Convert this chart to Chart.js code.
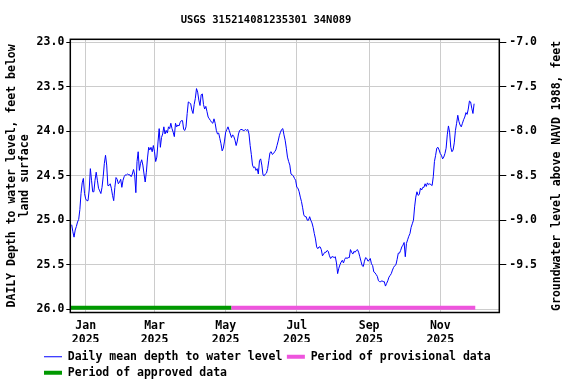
<!DOCTYPE html>
<html>
<head>
<meta charset="utf-8">
<script src="https://cdn.jsdelivr.net/npm/chart.js@4/dist/chart.umd.min.js"></script>
<style>
  html, body { margin: 0; padding: 0; background: #fff; }
</style>
</head>
<body>
<canvas id="chart" width="576" height="384"></canvas>
<script>
// daily mean depth to water level, feet below land surface, one value per day from startDate
var startDate = '2024-12-20';
var depth = [
  25.05, 25.13, 25.19, 25.11, 25.07, 25.02, 24.99, 24.88, 24.70, 24.58,
  24.53, 24.70, 24.76, 24.78, 24.78, 24.66, 24.42, 24.55, 24.68, 24.68,
  24.55, 24.46, 24.55, 24.64, 24.67, 24.70, 24.63, 24.51, 24.36, 24.27,
  24.38, 24.61, 24.61, 24.59, 24.64, 24.72, 24.78, 24.63, 24.52, 24.54,
  24.59, 24.57, 24.54, 24.63, 24.55, 24.51, 24.49, 24.49, 24.48, 24.49,
  24.49, 24.51, 24.48, 24.43, 24.49, 24.69, 24.34, 24.23, 24.44, 24.36,
  24.32, 24.38, 24.48, 24.57, 24.46, 24.30, 24.18, 24.21, 24.18, 24.23,
  24.16, 24.23, 24.34, 24.29, 24.12, 23.97, 24.18, 24.07, 24.03, 23.95,
  24.03, 23.99, 24.02, 23.95, 23.97, 23.91, 23.97, 24.01, 24.06, 23.91,
  23.95, 23.93, 23.94, 23.90, 23.88, 23.88, 23.98, 23.99, 23.95, 23.80,
  23.67, 23.68, 23.69, 23.76, 23.80, 23.70, 23.63, 23.52, 23.56, 23.65,
  23.71, 23.59, 23.58, 23.70, 23.75, 23.72, 23.78, 23.84, 23.86, 23.88,
  23.90, 23.91, 23.86, 23.91, 23.99, 24.03, 24.02, 24.08, 24.14, 24.22,
  24.19, 24.11, 24.01, 23.98, 23.95, 23.99, 24.03, 24.07, 24.04, 24.06,
  24.10, 24.16, 24.11, 24.03, 23.99, 23.98, 23.98, 23.99, 23.99, 23.98,
  23.99, 23.98, 24.03, 24.16, 24.26, 24.38, 24.41, 24.40, 24.44, 24.42,
  24.48, 24.33, 24.31, 24.38, 24.49, 24.50, 24.48, 24.47, 24.42, 24.33,
  24.24, 24.23, 24.26, 24.25, 24.23, 24.21, 24.16, 24.11, 24.05, 24.01,
  23.98, 23.97, 24.04, 24.10, 24.19, 24.29, 24.34, 24.38, 24.48, 24.49,
  24.50, 24.53, 24.55, 24.63, 24.64, 24.68, 24.74, 24.79, 24.86, 24.94,
  24.96, 24.96, 25.00, 25.00, 24.96, 25.00, 25.03, 25.08, 25.15, 25.21,
  25.30, 25.32, 25.30, 25.30, 25.33, 25.40, 25.38, 25.36, 25.36, 25.34,
  25.35, 25.40, 25.43, 25.41, 25.41, 25.42, 25.41, 25.48, 25.60, 25.54,
  25.50, 25.47, 25.45, 25.48, 25.44, 25.42, 25.43, 25.42, 25.42, 25.33,
  25.36, 25.38, 25.35, 25.36, 25.34, 25.33, 25.36, 25.41, 25.46, 25.51,
  25.52, 25.46, 25.42, 25.43, 25.46, 25.45, 25.43, 25.49, 25.51, 25.58,
  25.59, 25.61, 25.63, 25.68, 25.69, 25.69, 25.68, 25.69, 25.69, 25.74,
  25.71, 25.68, 25.64, 25.62, 25.60, 25.56, 25.53, 25.51, 25.50, 25.44,
  25.37, 25.37, 25.34, 25.30, 25.28, 25.25, 25.41, 25.26, 25.22, 25.18,
  25.15, 25.08, 25.04, 25.00, 24.85, 24.74, 24.68, 24.72, 24.71, 24.64,
  24.66, 24.63, 24.63, 24.59, 24.62, 24.58, 24.60, 24.59, 24.60, 24.61,
  24.51, 24.34, 24.27, 24.19, 24.18, 24.21, 24.25, 24.27, 24.31, 24.29,
  24.25, 24.19, 24.04, 23.94, 24.01, 24.18, 24.23, 24.21, 24.13, 23.99,
  23.91, 23.82, 23.89, 23.93, 23.95, 23.91, 23.87, 23.84, 23.79, 23.81,
  23.75, 23.66, 23.67, 23.74, 23.80, 23.69
];

var approvedPeriod = ['2024-12-19', '2025-05-06'];
var provisionalPeriod = ['2025-05-06', '2025-12-01'];

var tickDates = ['2025-01-01', '2025-03-01', '2025-05-01', '2025-07-01', '2025-09-01', '2025-11-01'];
var tickMonths = ['Jan', 'Mar', 'May', 'Jul', 'Sep', 'Nov'];
var tickYear = '2025';
var leftTicks = [23.0, 23.5, 24.0, 24.5, 25.0, 25.5, 26.0];
var rightTicks = [-7.0, -7.5, -8.0, -8.5, -9.0, -9.5];
var datumOffset = 16; // elevation above NAVD 1988 = datumOffset - depth

// axis ranges (days from 2025-01-01, feet below surface)
var xMin = -13.2, xMax = 354.6;
var depthTop = 22.966, depthBottom = 26.037;
var periodLevel = 25.985;

function dayNum(s) {
    return (Date.parse(s) - Date.parse('2025-01-01')) / 86400000;
}

var firstDay = dayNum(startDate);
var linePoints = depth.map(function (v, i) {
    return { x: firstDay + i, y: v };
});

function periodLine(p) {
    return [{ x: dayNum(p[0]), y: periodLevel }, { x: dayNum(p[1]), y: periodLevel }];
}

var FONT = 'DejaVu Sans Mono';
Chart.defaults.font.family = FONT;
Chart.defaults.font.size = 11.5;
Chart.defaults.font.weight = 'bold';
Chart.defaults.color = '#000';

// frame around the plot, chart title and right axis title (reads bottom to top)
var framePlugin = {
    id: 'frame',
    afterLayout: function (chart) {
        chart.legend.left = 39.5;
        chart.legend.top = 346.5;
    },
    afterDraw: function (chart) {
        var a = chart.chartArea, ctx = chart.ctx;
        ctx.save();
        ctx.strokeStyle = '#000';
        ctx.lineWidth = 1.5;
        ctx.strokeRect(a.left, a.top, a.right - a.left, a.bottom - a.top);
        ctx.fillStyle = '#000';
        ctx.textAlign = 'center';
        ctx.textBaseline = 'middle';
        ctx.font = 'bold 10.5px "' + FONT + '"';
        ctx.fillText('USGS 315214081235301 34N089', 266, 20.5);
        ctx.translate(557, (a.top + a.bottom) / 2);
        ctx.rotate(-Math.PI / 2);
        ctx.font = 'bold 11.5px "' + FONT + '"';
        ctx.fillText('Groundwater level above NAVD 1988, feet', 0, 0);
        ctx.restore();
    }
};

var ctx = document.getElementById('chart').getContext('2d');
var chart = new Chart(ctx, {
    type: 'line',
    data: {
        datasets: [{
            label: 'Daily mean depth to water level',
            data: linePoints,
            borderColor: '#0000ff',
            backgroundColor: '#0000ff',
            borderWidth: 1,
            pointRadius: 0,
            pointStyle: 'line',
            yAxisID: 'y'
        }, {
            label: 'Period of provisional data',
            data: periodLine(provisionalPeriod),
            borderColor: '#ee55dd',
            backgroundColor: '#ee55dd',
            borderWidth: 4,
            pointRadius: 0,
            pointStyle: 'line',
            yAxisID: 'y'
        }, {
            label: 'Period of approved data',
            data: periodLine(approvedPeriod),
            borderColor: '#009900',
            backgroundColor: '#009900',
            borderWidth: 4,
            pointRadius: 0,
            pointStyle: 'line',
            yAxisID: 'y'
        }]
    },
    options: {
        responsive: false,
        animation: false,
        devicePixelRatio: 1,
        layout: { padding: { top: 39.3 } },
        plugins: {
            title: { display: false },
            legend: {
                position: 'bottom',
                align: 'start',
                labels: {
                    usePointStyle: true,
                    pointStyleWidth: 18,
                    boxWidth: 18,
                    padding: 4.5,
                    color: '#000',
                    font: { size: 11.5, weight: 'bold' }
                }
            },
            tooltip: { enabled: false }
        },
        scales: {
            x: {
                type: 'linear',
                min: xMin,
                max: xMax,
                afterBuildTicks: function (scale) {
                    scale.ticks = tickDates.map(function (d) { return { value: dayNum(d) }; });
                },
                afterFit: function (scale) { scale.height = 29.5; },
                ticks: {
                    autoSkip: false,
                    maxRotation: 0,
                    padding: 7.4,
                    font: { size: 11.5, weight: 'bold', lineHeight: 1.15 },
                    callback: function (value, index) { return [tickMonths[index], tickYear]; }
                },
                grid: { color: '#cccccc', drawTicks: false },
                border: { display: false }
            },
            y: {
                position: 'left',
                reverse: true,
                min: depthTop,
                max: depthBottom,
                afterBuildTicks: function (scale) {
                    scale.ticks = leftTicks.map(function (v) { return { value: v }; });
                },
                afterFit: function (scale) { scale.width = 70.3; },
                ticks: {
                    padding: 2,
                    callback: function (value) { return Number(value).toFixed(1); }
                },
                grid: { color: '#cccccc', tickColor: '#000', tickLength: 4 },
                border: { display: false },
                title: {
                    display: true,
                    text: ['DAILY Depth to water level, feet below', 'land surface'],
                    font: { size: 11.5, weight: 'bold', lineHeight: 1.1 },
                    padding: { top: 5.7, bottom: 0 }
                }
            },
            y2: {
                position: 'right',
                min: datumOffset - depthBottom,
                max: datumOffset - depthTop,
                afterBuildTicks: function (scale) {
                    scale.ticks = rightTicks.map(function (v) { return { value: v }; });
                },
                afterFit: function (scale) { scale.width = 76.7; },
                ticks: {
                    padding: 3,
                    callback: function (value) { return Number(value).toFixed(1); }
                },
                grid: { drawOnChartArea: false, tickColor: '#000', tickLength: 7 },
                border: { display: false }
            }
        }
    },
    plugins: [framePlugin]
});
</script>
</body>
</html>
